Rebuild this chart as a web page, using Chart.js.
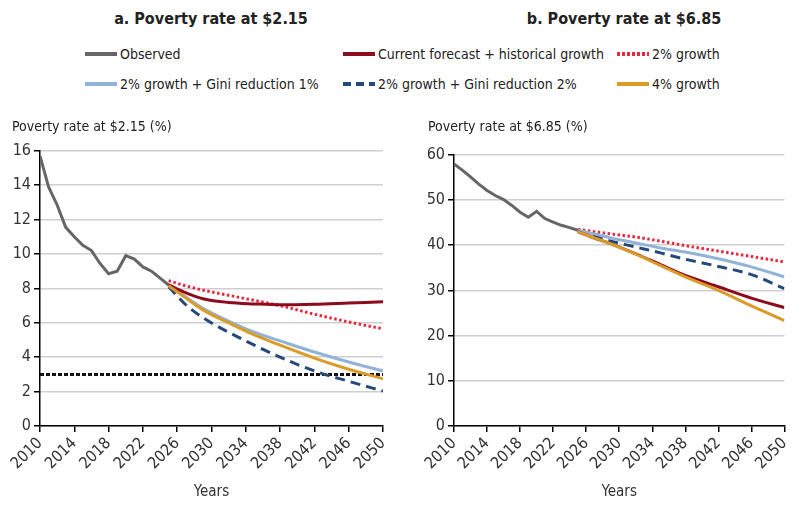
<!DOCTYPE html>
<html>
<head>
<meta charset="utf-8">
<script src="https://cdn.jsdelivr.net/npm/chart.js@4.4.1/dist/chart.umd.min.js"></script>
<style>
  body { margin: 0; background: #fff; font-family: 'Liberation Sans Narrow', 'DejaVu Sans Condensed', sans-serif; }
  #wrap { position: relative; width: 800px; height: 508px; overflow: hidden; }
  .title { position: absolute; top: 9px; font-weight: bold; font-size: 16px; color: #222; text-align: center; width: 300px; }
  .leg { position: absolute; font-size: 14px; color: #222; display: flex; align-items: center; white-space: nowrap; height: 20px; }
  .leg svg { margin-right: 3px; }
  canvas { position: absolute; }
</style>
</head>
<body>
<div id="wrap">
  <div class="title" style="left:61px">a. Poverty rate at $2.15</div>
  <div class="title" style="left:474px">b. Poverty rate at $6.85</div>
  <div id="legend"></div>
  <canvas id="chartLow" width="400" height="398" style="left:0;top:110px"></canvas>
  <canvas id="chartHigh" width="382" height="398" style="left:418px;top:110px"></canvas>
</div>
<script>
// years
const obsYears = [2010, 2011, 2012, 2013, 2014, 2015, 2016, 2017, 2018, 2019, 2020, 2021, 2022, 2023, 2024, 2025];
const projYears = [2025, 2027, 2029, 2032, 2035, 2038, 2042, 2046, 2050];
const lineYears = [2010, 2050];
const xTicks = [2010, 2014, 2018, 2022, 2026, 2030, 2034, 2038, 2042, 2046, 2050];

// panel a: poverty rate at $2.15 (%)
const obsLow = [15.7, 13.9, 12.85, 11.55, 11.0, 10.5, 10.2, 9.45, 8.85, 9.0, 9.9, 9.7, 9.25, 9.0, 8.6, 8.2];
const currLow = [8.2, 7.75, 7.4, 7.18, 7.1, 7.05, 7.08, 7.15, 7.22];
const g2Low = [8.45, 8.15, 7.9, 7.6, 7.3, 7.0, 6.5, 6.05, 5.65];
const gini1Low = [8.2, 7.5, 6.85, 6.1, 5.45, 4.95, 4.3, 3.72, 3.2];
const gini2Low = [8.1, 7.05, 6.3, 5.45, 4.7, 4.0, 3.2, 2.6, 2.03];
const g4Low = [8.15, 7.45, 6.75, 6.0, 5.3, 4.7, 3.95, 3.3, 2.75];
const targetLow = [3, 3];

// panel b: poverty rate at $6.85 (%)
const obsHigh = [58.0, 56.6, 55.1, 53.5, 52.1, 51.0, 50.1, 48.8, 47.3, 46.2, 47.5, 45.9, 45.1, 44.4, 43.9, 43.3];
const currHigh = [43.0, 41.6, 40.3, 38.1, 35.7, 33.3, 30.8, 28.3, 26.2];
const g2High = [43.5, 43.0, 42.5, 41.8, 40.9, 39.9, 38.7, 37.5, 36.3];
const gini1High = [43.3, 42.5, 41.6, 40.5, 39.4, 38.5, 37.0, 35.2, 33.0];
const gini2High = [43.3, 42.0, 40.9, 39.6, 38.3, 36.9, 35.3, 33.5, 30.4];
const g4High = [43.0, 41.6, 40.3, 38.0, 35.5, 33.0, 30.0, 26.6, 23.3];

const FONT = "'Liberation Sans Narrow', 'DejaVu Sans Condensed', sans-serif";
const C = {
  obs: '#666666',
  curr: '#8c0b1c',
  g2: '#e8283c',
  gini1: '#92b3d8',
  gini2: '#24497a',
  g4: '#dc9a27',
  target: '#111111'
};

// legend (shared by both panels)
const legendItems = [
  { text: 'Observed', color: C.obs, dash: '', x: 85, y: 44 },
  { text: 'Current forecast + historical growth', color: C.curr, dash: '', x: 343, y: 44 },
  { text: '2% growth', color: C.g2, dash: '3,2', x: 617, y: 44 },
  { text: '2% growth + Gini reduction 1%', color: C.gini1, dash: '', x: 85, y: 74 },
  { text: '2% growth + Gini reduction 2%', color: C.gini2, dash: '8,5', x: 343, y: 74 },
  { text: '4% growth', color: C.g4, dash: '', x: 617, y: 74 }
];
document.getElementById('legend').innerHTML = legendItems.map(it => `
  <div class="leg" style="left:${it.x}px;top:${it.y}px">
    <svg width="32" height="6"><line x1="0" y1="3" x2="32" y2="3" stroke="${it.color}" stroke-width="4" stroke-dasharray="${it.dash}"/></svg>${it.text}
  </div>`).join('');

function pts(years, vals) {
  return years.map((y, i) => ({ x: y, y: vals[i] }));
}

function line(data, color, dash, extra) {
  return Object.assign({
    data: data,
    borderColor: color,
    borderWidth: 3,
    borderDash: dash || [],
    pointRadius: 0,
    fill: false,
    cubicInterpolationMode: 'monotone'
  }, extra || {});
}

function makeChart(id, cfg) {
  // datasets listed top-most first
  const datasets = [
    line(pts(projYears, cfg.g4), C.g4),
    line(pts(projYears, cfg.curr), C.curr),
    line(pts(projYears, cfg.gini1), C.gini1),
    line(pts(projYears, cfg.gini2), C.gini2, [10, 6]),
    line(pts(projYears, cfg.g2), C.g2, [2.5, 2.5]),
    line(pts(obsYears, cfg.obs), C.obs, [], { cubicInterpolationMode: 'default', tension: 0 })
  ];
  if (cfg.target) {
    datasets.push(line(pts(lineYears, cfg.target), C.target, [4, 2], { borderWidth: 3 }));
  }
  return new Chart(document.getElementById(id), {
    type: 'line',
    data: { datasets: datasets },
    options: {
      responsive: false,
      animation: false,
      layout: { padding: { left: cfg.padLeft, right: cfg.padRight, top: 0, bottom: 7 } },
      plugins: {
        legend: { display: false },
        tooltip: { enabled: false },
        title: {
          display: true,
          text: cfg.yTitle,
          align: 'start',
          color: '#222',
          font: { family: FONT, size: 14, weight: 'normal' },
          padding: { top: 9, bottom: cfg.titleGap }
        }
      },
      scales: {
        x: {
          type: 'linear',
          min: 2010,
          max: 2050,
          afterBuildTicks: s => { s.ticks = xTicks.map(v => ({ value: v })); },
          afterFit: s => { s.height = 75; },
          ticks: {
            autoSkip: false,
            minRotation: 45,
            maxRotation: 45,
            padding: 2,
            color: '#333',
            font: { family: FONT, size: 16 },
            callback: v => String(v)
          },
          grid: { drawOnChartArea: false, tickColor: '#000', tickLength: 6, lineWidth: 1.5 },
          border: { color: '#000', width: 1.5 },
          title: {
            display: true,
            text: 'Years',
            color: '#333',
            font: { family: FONT, size: 15 },
            padding: { top: 0, bottom: 0 }
          }
        },
        y: {
          min: 0,
          max: cfg.yMax,
          afterFit: s => { s.width = cfg.yWidth; },
          ticks: {
            stepSize: cfg.yStep,
            padding: 3,
            color: '#333',
            font: { family: FONT, size: 16 }
          },
          grid: { color: '#cfcfcf', lineWidth: 1.5, tickColor: '#000', tickLength: 6 },
          border: { color: '#000', width: 1.5 }
        }
      }
    }
  });
}

makeChart('chartLow', {
  obs: obsLow, curr: currLow, g2: g2Low, gini1: gini1Low, gini2: gini2Low, g4: g4Low, target: targetLow,
  yTitle: 'Poverty rate at $2.15 (%)', yMax: 16, yStep: 2, padLeft: 12, yWidth: 28, padRight: 17, titleGap: 15
});
makeChart('chartHigh', {
  obs: obsHigh, curr: currHigh, g2: g2High, gini1: gini1High, gini2: gini2High, g4: g4High,
  yTitle: 'Poverty rate at $6.85 (%)', yMax: 60, yStep: 10, padLeft: 10, yWidth: 26, padRight: 7, titleGap: 19
});
</script>
</body>
</html>
